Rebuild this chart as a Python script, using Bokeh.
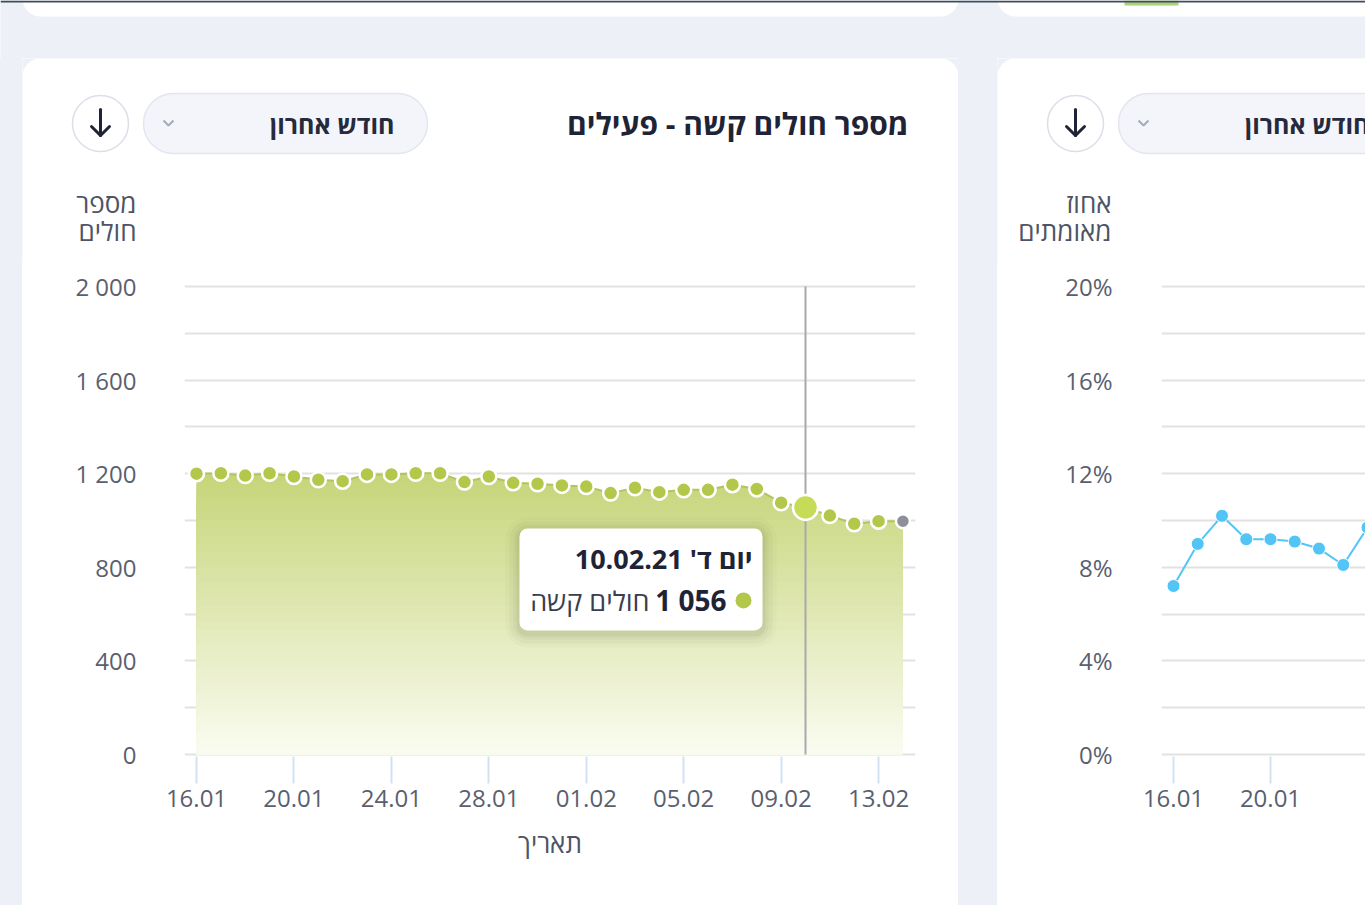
import numpy as np
from bokeh.plotting import figure
from bokeh.models import Range1d, FixedTicker, BoxAnnotation, Label, Spacer
from bokeh.layouts import column, row
from bokeh.embed import file_html
from bokeh.resources import INLINE

# ------------------------------------------------------------------ data
severe_dates = ["16.01", "17.01", "18.01", "19.01", "20.01", "21.01", "22.01", "23.01",
                "24.01", "25.01", "26.01", "27.01", "28.01", "29.01", "30.01", "31.01",
                "01.02", "02.02", "03.02", "04.02", "05.02", "06.02", "07.02", "08.02",
                "09.02", "10.02", "11.02", "12.02", "13.02", "14.02"]
severe_patients = [1200, 1202, 1192, 1202, 1188, 1174, 1168, 1197, 1197, 1202,
                   1202, 1164, 1188, 1161, 1157, 1150, 1145, 1117, 1140, 1121,
                   1131, 1131, 1153, 1135, 1076, 1056, 1021, 986, 997, 997]
severe_y_ticks = [0, 400, 800, 1200, 1600, 2000]
severe_y_labels = ["0", "400", "800", "1 200", "1 600", "2 000"]

positive_dates = ["16.01", "17.01", "18.01", "19.01", "20.01", "21.01", "22.01", "23.01", "24.01"]
positive_rate = [7.2, 9.0, 10.2, 9.2, 9.2, 9.1, 8.8, 8.1, 9.7]
positive_y_ticks = [0, 4, 8, 12, 16, 20]
positive_y_labels = ["0%", "4%", "8%", "12%", "16%", "20%"]

x_tick_step = 4
hover_index = 25
hover_title = "יום ד' 10.02.21"
hover_value_label = "1 056"
hover_series_name = "חולים קשה"

card_title = "מספר חולים קשה - פעילים"
period_label = "חודש אחרון"
severe_y_title = ["מספר", "חולים"]
positive_y_title = ["אחוז", "מאומתים"]
x_title = "תאריך"

# ------------------------------------------------------------------ style
BG = "#edf0f7"
FONT = "Open Sans"
DARK = "#1f2336"
AXIS_TXT = "#5a5f70"
GRID = "#e2e2e2"
GREEN = "#b3c84a"
GREEN_HI = "#c7dc56"
GREY_PT = "#8d8f9b"
BLUE = "#52c5f6"

PAGE_W, PAGE_H = 1365, 905
STRIP_H = 58
HEADER_H = 204
CHART_H = PAGE_H - STRIP_H - HEADER_H
TOP_B = 22
FRAME_H = 472
BOT_B = CHART_H - TOP_B - FRAME_H


def hex_col(c):
    return "#%02x%02x%02x" % tuple(int(round(v)) for v in c)


def header_fig(W, right_open, title, y_title):
    h = figure(width=W, height=HEADER_H, x_range=Range1d(0, W), y_range=Range1d(0, HEADER_H),
               min_border=0, toolbar_location=None, output_backend="svg",
               x_axis_location=None, y_axis_location=None)
    h.grid.visible = False
    h.outline_line_color = None
    h.background_fill_color = BG
    h.border_fill_color = BG
    Y = lambda cy: HEADER_H - cy
    # white card
    h.add_layout(BoxAnnotation(left=0, right=W + (200 if right_open else 0), bottom=-100, top=HEADER_H,
                               border_radius=18, fill_color="white", fill_alpha=1,
                               line_color=None, level="underlay"))
    # period selector pill
    h.add_layout(BoxAnnotation(left=121, right=405, top=Y(35), bottom=Y(95), border_radius=30,
                               fill_color="#f3f5fa", fill_alpha=1, line_color="#e2e6ef",
                               line_alpha=1, line_width=1.5, level="underlay"))
    h.line(x=[141, 146, 151], y=[Y(62), Y(67), Y(62)], line_color="#a3abbd", line_width=2)
    h.add_layout(Label(x=372, y=Y(65), text=period_label, text_align="right", text_baseline="middle",
                       text_font=FONT, text_font_size="25px", text_font_style="bold", text_color="#262a3c"))
    # download button
    h.circle(x=[78], y=[Y(65)], radius=28, fill_color="white", line_color="#dcdfe7", line_width=1.5)
    h.line(x=[78, 78], y=[Y(51), Y(77)], line_color=DARK, line_width=3, line_cap="round")
    h.line(x=[69, 78, 87], y=[Y(68), Y(77), Y(68)], line_color=DARK, line_width=3,
           line_cap="round", line_join="round")
    if title:
        h.add_layout(Label(x=886, y=Y(65), text=title, text_align="right", text_baseline="middle",
                           text_font=FONT, text_font_size="30px", text_font_style="bold", text_color=DARK))
    for i, t in enumerate(y_title):
        h.add_layout(Label(x=114, y=Y(144 + 28 * i), text=t, text_align="right", text_baseline="middle",
                           text_font=FONT, text_font_size="26px", text_color="#4e5365"))
    return h


def chart_fig(W, left, right, day_px, first_px, y_ticks, y_labels, standoff, dates, xlab):
    frame_w = W - left - right
    x_start = -first_px / day_px
    x_end = x_start + frame_w / day_px
    y_top = y_ticks[-1]
    pad = (FRAME_H - 468) / 2 * y_top / 468
    p = figure(width=W, height=CHART_H, x_range=Range1d(x_start, x_end),
               y_range=Range1d(-pad, y_top + pad),
               min_border_left=left, min_border_right=right, min_border_top=TOP_B,
               min_border_bottom=BOT_B, toolbar_location=None, output_backend="svg")
    p.outline_line_color = None
    p.background_fill_color = "white"
    p.border_fill_color = "white"
    p.xgrid.visible = False
    grid_ticks = sorted(set(y_ticks) | {(a + b) / 2 for a, b in zip(y_ticks, y_ticks[1:])})
    p.ygrid.ticker = FixedTicker(ticks=grid_ticks)
    p.ygrid.grid_line_color = GRID
    p.ygrid.grid_line_width = 2

    xt = list(range(0, len(dates), x_tick_step))
    xa = p.xaxis[0]
    xa.ticker = FixedTicker(ticks=xt)
    xa.major_label_overrides = {i: dates[i] for i in xt}
    xa.axis_line_color = None
    xa.major_tick_in = 0
    xa.major_tick_out = 27
    xa.major_tick_line_color = "#d2e2f3"
    xa.major_tick_line_width = 2
    xa.minor_tick_line_color = None
    xa.major_label_standoff = 6
    xa.major_label_text_font = FONT
    xa.major_label_text_font_size = "24px"
    xa.major_label_text_color = AXIS_TXT
    if xlab:
        xa.axis_label = xlab
        xa.axis_label_standoff = 15
        xa.axis_label_text_font = FONT
        xa.axis_label_text_font_size = "26px"
        xa.axis_label_text_font_style = "normal"
        xa.axis_label_text_color = "#4e5365"

    ya = p.yaxis[0]
    ya.ticker = FixedTicker(ticks=y_ticks)
    ya.major_label_overrides = dict(zip(y_ticks, y_labels))
    ya.axis_line_color = None
    ya.major_tick_line_color = None
    ya.major_tick_in = 0
    ya.major_tick_out = 0
    ya.minor_tick_line_color = None
    ya.major_label_standoff = standoff
    ya.major_label_text_font = FONT
    ya.major_label_text_font_size = "24px"
    ya.major_label_text_color = AXIS_TXT
    return p, day_px, 468 / y_top


# ------------------------------------------------------------------ left card
LEFT_W = 936
hl = header_fig(LEFT_W, False, card_title, severe_y_title)
pl, PXD, PXU = chart_fig(LEFT_W, 162, 43, 24.36, 12, severe_y_ticks, severe_y_labels, 48,
                         severe_dates, x_title)

vals = np.array(severe_patients, dtype=float)
xs = np.arange(len(vals))
vmax = vals.max()
c_top = np.array([199, 213, 122])
c_bot = np.array([251, 252, 243])
N = 36
for k in range(N):
    T = vmax * (1 - k / N)
    c = c_bot + (c_top - c_bot) * (T / vmax)
    pl.varea(x=xs, y1=0, y2=np.minimum(vals, T), fill_color=hex_col(c), fill_alpha=1)

pl.segment(x0=[hover_index], y0=[0], x1=[hover_index], y1=[severe_y_ticks[-1]],
           line_color="#a9a9ab", line_width=2)
pl.line(xs, vals, line_color="#b2c45e", line_width=2)
pl.scatter(xs[:-1], vals[:-1], size=15, fill_color=GREEN, line_color="white", line_width=2.5)
pl.scatter(xs[-1:], vals[-1:], size=14, fill_color=GREY_PT, line_color="white", line_width=2.5)
pl.scatter([hover_index], [vals[hover_index]], size=25, fill_color=GREEN_HI, line_color="white",
           line_width=2.5)

hx, hy = hover_index, vals[hover_index]


def at(dx, dy):
    return hx + dx / PXD, hy - dy / PXU


# tooltip box with soft shadow
for s, a in [(14, 0.025), (10, 0.035), (6, 0.045), (3, 0.06)]:
    l, t = at(-286 - s, 21 - s + 3)
    r, b = at(-43 + s, 123 + s + 3)
    pl.add_layout(BoxAnnotation(left=l, right=r, top=t, bottom=b, border_radius=8 + s,
                                fill_color="#3a4220", fill_alpha=a, line_color=None))
l, t = at(-286, 21)
r, b = at(-43, 123)
pl.add_layout(BoxAnnotation(left=l, right=r, top=t, bottom=b, border_radius=8,
                            fill_color="white", fill_alpha=1, line_color=None))
x0, y0 = at(-53, 51)
pl.add_layout(Label(x=x0, y=y0, text=hover_title, text_align="right", text_baseline="middle",
                    text_font=FONT, text_font_size="27px", text_font_style="bold", text_color=DARK))
l, t = at(-70, 85)
r, b = at(-54, 101)
pl.add_layout(BoxAnnotation(left=l, right=r, top=t, bottom=b, border_radius=8,
                            fill_color=GREEN, fill_alpha=1, line_color=None))
x0, y0 = at(-79, 93)
pl.add_layout(Label(x=x0, y=y0, text=hover_value_label, text_align="right", text_baseline="middle",
                    text_font=FONT, text_font_size="28px", text_font_style="bold", text_color=DARK))
x0, y0 = at(-156, 93)
pl.add_layout(Label(x=x0, y=y0, text=hover_series_name, text_align="right", text_baseline="middle",
                    text_font=FONT, text_font_size="27px", text_color="#3a3e50"))

# ------------------------------------------------------------------ right card
RIGHT_W = PAGE_W - 22 - LEFT_W - 39
hr = header_fig(RIGHT_W, True, None, positive_y_title)
pr, _, _ = chart_fig(RIGHT_W, 164, 0, 24.25, 12, positive_y_ticks, positive_y_labels, 49,
                     positive_dates, None)
xr = np.arange(len(positive_rate))
pr.line(xr, positive_rate, line_color=BLUE, line_width=2)
pr.scatter(xr, positive_rate, size=13, fill_color=BLUE, line_color="white", line_width=1)

# ------------------------------------------------------------------ top strip
strip = figure(width=PAGE_W, height=STRIP_H, x_range=Range1d(0, PAGE_W), y_range=Range1d(0, STRIP_H),
               min_border=0, toolbar_location=None, output_backend="svg",
               x_axis_location=None, y_axis_location=None)
strip.grid.visible = False
strip.outline_line_color = None
strip.background_fill_color = BG
strip.border_fill_color = BG
YS = lambda cy: STRIP_H - cy
strip.add_layout(BoxAnnotation(left=22, right=958, bottom=YS(16), top=YS(-60), border_radius=18,
                               fill_color="white", fill_alpha=1, line_color=None))
strip.add_layout(BoxAnnotation(left=997, right=1700, bottom=YS(16), top=YS(-60), border_radius=18,
                               fill_color="white", fill_alpha=1, line_color=None))
strip.add_layout(BoxAnnotation(left=1124, right=1178, bottom=YS(5), top=YS(0),
                               fill_color="#a8d37a", fill_alpha=1, line_color=None))
strip.add_layout(BoxAnnotation(left=0, right=PAGE_W, bottom=YS(2), top=YS(0),
                               fill_color="#3e4c5d", fill_alpha=1, line_color=None))

bgs = {"background-color": BG}
white = {"background-color": "white"}
cards = row(Spacer(width=22, height=CHART_H + HEADER_H, styles=bgs),
            column(row(hl), pl, styles=white),
            Spacer(width=39, height=CHART_H + HEADER_H, styles=bgs),
            column(row(hr), pr, styles=white))
layout = column(strip, cards)

open("out.html", "w").write(file_html(layout, INLINE))
